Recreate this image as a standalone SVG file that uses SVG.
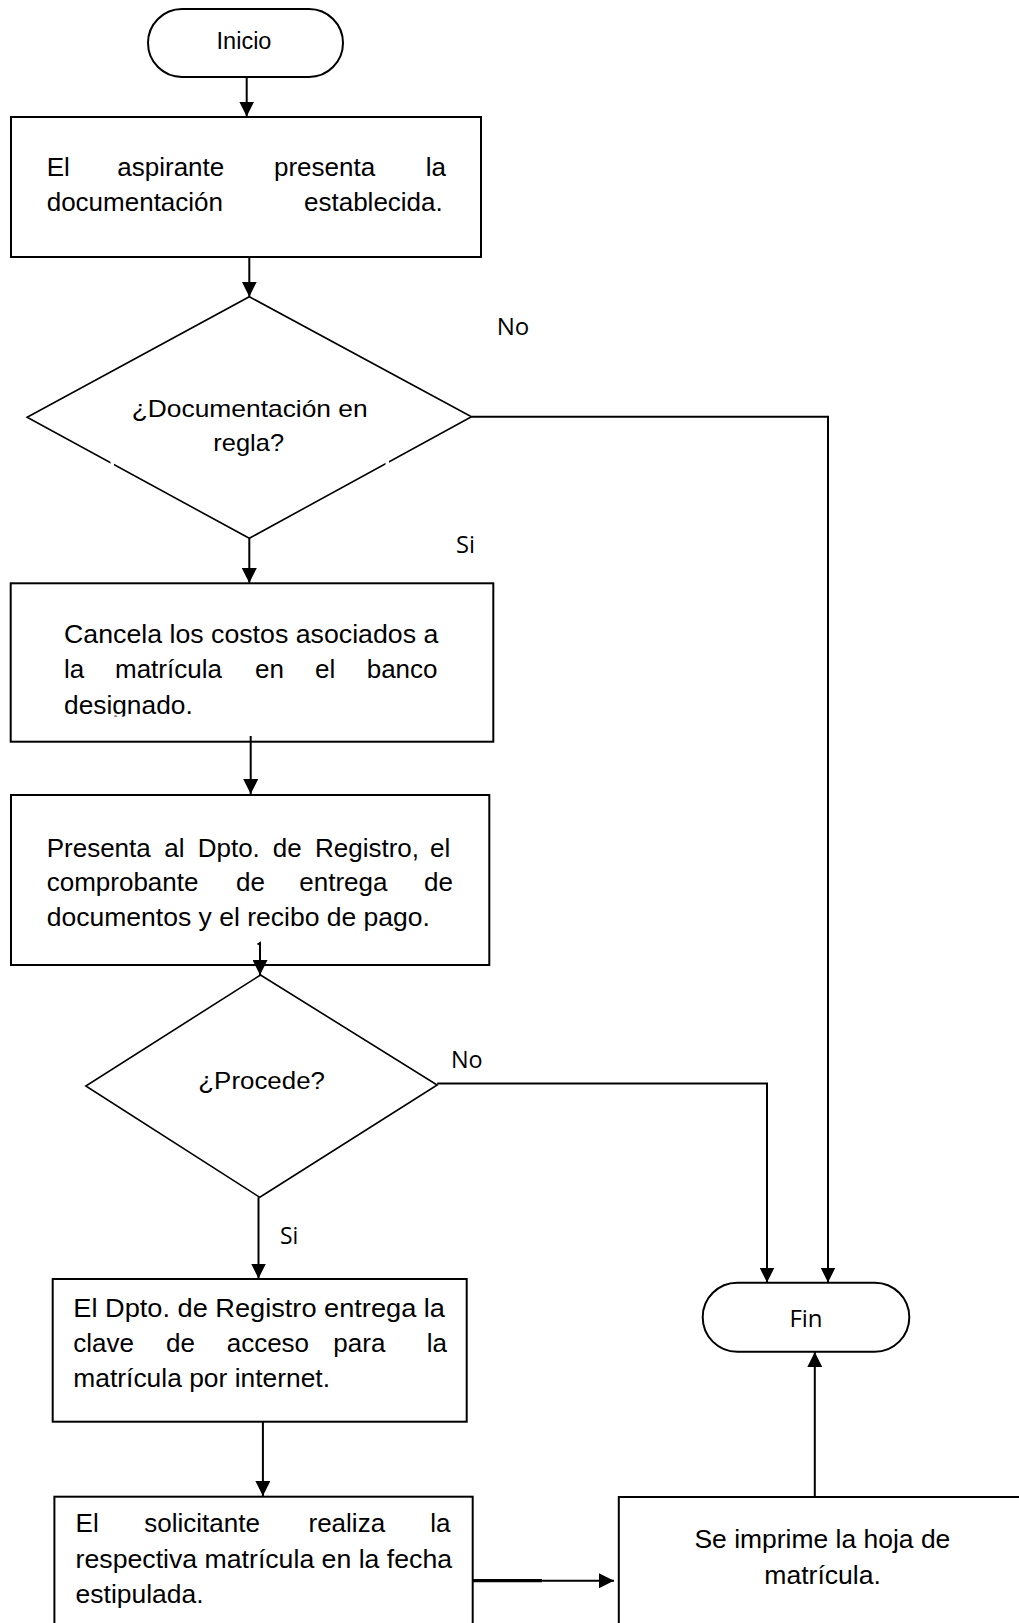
<svg xmlns="http://www.w3.org/2000/svg" width="1019" height="1623" viewBox="0 0 1019 1623">
  <style>
    .shape { fill: #fff; stroke: #000; stroke-width: 2; }
    .diamond { fill: #fff; stroke: #000; stroke-width: 1.6; }
    .body { font-family: "Liberation Sans", Arial, sans-serif; font-size: 26px; fill: #000; }
    .cond { font-family: "Liberation Sans", Arial, sans-serif; font-size: 24px; fill: #000; }
    .lbl { font-family: "Open Sans", "Noto Sans", sans-serif; font-size: 23px; fill: #000; }
    .wire { fill: none; stroke: #000; stroke-width: 2; }
  </style>
  <defs>
    <marker id="arrow" viewBox="0 0 16 16" markerWidth="15" markerHeight="15" refX="16" refY="8" orient="auto" markerUnits="userSpaceOnUse">
      <path d="M0,0 L16,8 L0,16 z" fill="#000"/>
    </marker>
    <clipPath id="clipDesignado">
      <rect x="50" y="685" width="300" height="31.5"/>
    </clipPath>
  </defs>
  <rect width="1019" height="1623" fill="#fff"/>

  <!-- Inicio -->
  <g id="inicio">
    <rect class="shape" x="148" y="9" width="195" height="68" rx="34" ry="34"/>
    <text class="body" x="244" y="49.3" text-anchor="middle" style="font-size:23.5px">Inicio</text>
  </g>

  <!-- Paso 1 -->
  <g id="presenta-documentacion">
    <rect class="shape" x="11" y="117" width="470" height="140"/>
    <text class="body" y="176"><tspan x="46.7">El </tspan><tspan x="117.3">aspirante </tspan><tspan x="274">presenta </tspan><tspan x="425.7">la</tspan></text>
    <text class="body" y="210.7"><tspan x="46.7">documentación </tspan><tspan x="304">establecida.</tspan></text>
  </g>

  <!-- Decision 1 -->
  <g id="documentacion-en-regla">
    <polygon class="diamond" points="249.3,296.7 471.5,416.7 249.3,538.3 27.1,417.3"/>
    <rect x="110.5" y="459.5" width="3.5" height="7" fill="#fff"/>
    <rect x="385.5" y="459" width="3.5" height="7" fill="#fff"/>
    <text class="cond" x="249.7" y="416.7" text-anchor="middle" textLength="236" lengthAdjust="spacingAndGlyphs">¿Documentación en</text>
    <text class="cond" x="248.7" y="450.7" text-anchor="middle" textLength="70.7" lengthAdjust="spacingAndGlyphs">regla?</text>
  </g>

  <!-- Paso 2 -->
  <g id="cancela-costos">
    <rect class="shape" x="10.7" y="583.3" width="482.6" height="158.4"/>
    <text class="body" x="64" y="643.3" textLength="374.3" lengthAdjust="spacingAndGlyphs">Cancela los costos asociados a</text>
    <text class="body" y="678.3"><tspan x="64">la </tspan><tspan x="115">matrícula </tspan><tspan x="255">en </tspan><tspan x="315">el </tspan><tspan x="366.7">banco</tspan></text>
    <text class="body" x="64" y="714" textLength="128.7" lengthAdjust="spacingAndGlyphs" clip-path="url(#clipDesignado)">designado.</text>
  </g>

  <!-- Paso 3 -->
  <g id="presenta-registro">
    <rect class="shape" x="11" y="795" width="478.3" height="170"/>
    <text class="body" y="856.7"><tspan x="46.7">Presenta </tspan><tspan x="164.3">al </tspan><tspan x="197.7">Dpto. </tspan><tspan x="272.7">de </tspan><tspan x="315">Registro, </tspan><tspan x="430">el</tspan></text>
    <text class="body" y="890.7"><tspan x="46.7">comprobante </tspan><tspan x="236">de </tspan><tspan x="299.3">entrega </tspan><tspan x="424">de</tspan></text>
    <text class="body" x="46.7" y="926" textLength="383.3" lengthAdjust="spacingAndGlyphs">documentos y el recibo de pago.</text>
  </g>

  <!-- Decision 2 -->
  <g id="procede">
    <polygon class="diamond" points="260.5,975 437.2,1085 259.8,1197.3 85.8,1086"/>
    <text class="cond" x="198.3" y="1089.3" textLength="126.7" lengthAdjust="spacingAndGlyphs" style="font-size:23px">¿Procede?</text>
  </g>

  <!-- Paso 4 -->
  <g id="entrega-clave">
    <rect class="shape" x="52.7" y="1279" width="414" height="142.7"/>
    <text class="body" x="73.3" y="1316.7" textLength="371.7" lengthAdjust="spacingAndGlyphs">El Dpto. de Registro entrega la</text>
    <text class="body" y="1351.7"><tspan x="73.3">clave </tspan><tspan x="166">de </tspan><tspan x="226.7">acceso </tspan><tspan x="333.3">para </tspan><tspan x="426.7">la</tspan></text>
    <text class="body" x="73.3" y="1386.7" textLength="256.7" lengthAdjust="spacingAndGlyphs">matrícula por internet.</text>
  </g>

  <!-- Paso 5 -->
  <g id="realiza-matricula">
    <rect class="shape" x="54.4" y="1496.7" width="418.3" height="140"/>
    <text class="body" y="1532.3"><tspan x="75.6">El </tspan><tspan x="144.3">solicitante </tspan><tspan x="308.5">realiza </tspan><tspan x="430.2">la</tspan></text>
    <text class="body" x="75.6" y="1568.3" textLength="376.5" lengthAdjust="spacingAndGlyphs">respectiva matrícula en la fecha</text>
    <text class="body" x="75.6" y="1603.3" textLength="128" lengthAdjust="spacingAndGlyphs">estipulada.</text>
  </g>

  <!-- Paso 6 -->
  <g id="imprime-hoja">
    <rect class="shape" x="618.8" y="1497" width="420" height="140"/>
    <text class="body" x="822.4" y="1548.3" text-anchor="middle" textLength="255.9" lengthAdjust="spacingAndGlyphs">Se imprime la hoja de</text>
    <text class="body" x="822.6" y="1584" text-anchor="middle" textLength="116.7" lengthAdjust="spacingAndGlyphs">matrícula.</text>
  </g>

  <!-- Fin -->
  <g id="fin">
    <rect class="shape" x="702.7" y="1282.7" width="206.6" height="69" rx="34.5" ry="34.5"/>
    <text class="lbl" x="806" y="1327.3" text-anchor="middle" style="font-size:24px">Fin</text>
  </g>

  <!-- Connectors -->
  <g id="connectors">
    <path class="wire" d="M246.7,77 V116.5" marker-end="url(#arrow)"/>
    <path class="wire" d="M249.3,257 V296.7" marker-end="url(#arrow)"/>
    <path class="wire" d="M249.3,538.3 V583" marker-end="url(#arrow)"/>
    <path class="wire" d="M250.7,736 V794" marker-end="url(#arrow)"/>
    <path class="wire" d="M257.5,944.5 L260,943 V975" marker-end="url(#arrow)"/>
    <path class="wire" d="M258.5,1197.3 V1278.5" marker-end="url(#arrow)"/>
    <path class="wire" d="M262.9,1421.7 V1496" marker-end="url(#arrow)"/>
    <path class="wire" d="M472.7,1580.7 H614" marker-end="url(#arrow)"/>
    <path class="wire" d="M472.7,1580.7 H542" style="stroke-width:3.2"/>
    <path class="wire" d="M814.8,1496 V1352" marker-end="url(#arrow)"/>
    <path class="wire" d="M471.5,416.7 H828 V1282.5" marker-end="url(#arrow)"/>
    <path class="wire" d="M437.2,1083.5 H767 V1282.5" marker-end="url(#arrow)"/>
    <text class="lbl" x="496.7" y="335" textLength="32.6" lengthAdjust="spacingAndGlyphs">No</text>
    <text class="lbl" x="456" y="553.3" textLength="19" lengthAdjust="spacingAndGlyphs">Si</text>
    <text class="lbl" x="451" y="1068.3" textLength="31.7" lengthAdjust="spacingAndGlyphs">No</text>
    <text class="lbl" x="280" y="1244" textLength="18.3" lengthAdjust="spacingAndGlyphs">Si</text>
  </g>
</svg>
